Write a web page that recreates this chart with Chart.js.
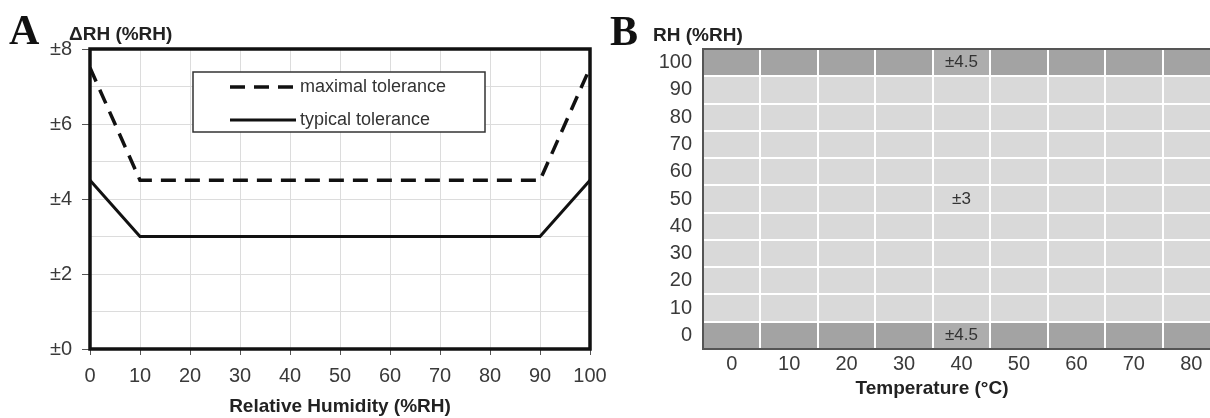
<!DOCTYPE html>
<html><head><meta charset="utf-8">
<script src="https://cdn.jsdelivr.net/npm/chart.js@4.4.1/dist/chart.umd.min.js"></script>
<style>
html,body{margin:0;padding:0;background:#fff;overflow:hidden;width:1210px;height:418px;}
#wa{position:absolute;left:0;top:0;width:620px;height:418px;}
#wb{position:absolute;left:600px;top:0;width:620px;height:418px;}
canvas{display:block;}
</style></head><body>
<div id="wa"><canvas id="ca" width="620" height="418"></canvas></div>
<div id="wb"><canvas id="cb" width="620" height="418"></canvas></div>
<script>
// ---- Panel A data ----
const rhPoints = [0, 10, 90, 100];
const maximalTolerance = [7.5, 4.5, 4.5, 7.5];
const typicalTolerance = [4.5, 3, 3, 4.5];
const seriesNames = ['maximal tolerance', 'typical tolerance'];
// ---- Panel B data ----
const temperatureLabels = ['0', '10', '20', '30', '40', '50', '60', '70', '80'];
const rhRows = [0, 10, 20, 30, 40, 50, 60, 70, 80, 90, 100];
const rhRowTolerance = [4.5, 3, 3, 3, 3, 3, 3, 3, 3, 3, 4.5];
const labelTemperature = '40';
const labelledRows = [100, 50, 0];

const NARROW = '"Liberation Sans Narrow", "Arial Narrow", "Liberation Sans", Arial, sans-serif';
const SERIF = '"Liberation Serif", "Times New Roman", serif';
Chart.defaults.font.family = NARROW;
Chart.defaults.color = '#3a3a3a';

// ---------------- Chart A ----------------
const frameA = {
  id: 'frameA',
  afterDatasetsDraw(chart) {
    const {ctx, chartArea: a} = chart;
    ctx.save();
    ctx.strokeStyle = '#111';
    ctx.lineWidth = 3.5;
    ctx.setLineDash([]);
    ctx.strokeRect(a.left, a.top, a.right - a.left, a.bottom - a.top);
    ctx.restore();
  },
  afterDraw(chart) {
    const {ctx} = chart;
    ctx.save();
    // legend box
    const bx = 193, by = 72, bw = 292, bh = 60;
    ctx.fillStyle = '#fff';
    ctx.fillRect(bx, by, bw, bh);
    ctx.strokeStyle = '#333';
    ctx.lineWidth = 1.5;
    ctx.strokeRect(bx, by, bw, bh);
    chart.data.datasets.forEach((ds, i) => {
      const y = 87 + i * 33;
      ctx.strokeStyle = ds.borderColor;
      ctx.lineWidth = ds.borderWidth;
      ctx.setLineDash(ds.borderDash || []);
      ctx.beginPath();
      ctx.moveTo(230, y);
      ctx.lineTo(296, y);
      ctx.stroke();
      ctx.setLineDash([]);
      ctx.fillStyle = '#333';
      ctx.font = '18px ' + NARROW;
      ctx.textBaseline = 'middle';
      ctx.textAlign = 'left';
      ctx.fillText(ds.label, 300, y);
    });
    // panel letter and y title
    ctx.fillStyle = '#111';
    ctx.font = 'bold 42px ' + SERIF;
    ctx.textBaseline = 'alphabetic';
    ctx.fillText('A', 9, 44);
    ctx.fillStyle = '#222';
    ctx.font = 'bold 19px ' + NARROW;
    ctx.fillText('ΔRH (%RH)', 69, 40);
    ctx.restore();
  }
};

new Chart(document.getElementById('ca'), {
  type: 'line',
  data: {
    datasets: [
      {
        label: seriesNames[0],
        data: rhPoints.map((x, i) => ({x: x, y: maximalTolerance[i]})),
        borderColor: '#111', borderWidth: 3.5, borderDash: [15, 9],
        pointRadius: 0, tension: 0, fill: false
      },
      {
        label: seriesNames[1],
        data: rhPoints.map((x, i) => ({x: x, y: typicalTolerance[i]})),
        borderColor: '#111', borderWidth: 3, borderDash: [],
        pointRadius: 0, tension: 0, fill: false
      }
    ]
  },
  options: {
    responsive: false, animation: false, devicePixelRatio: 1,
    layout: {padding: {top: 49, right: 30, left: 0, bottom: 0}},
    plugins: {legend: {display: false}, tooltip: {enabled: false}},
    scales: {
      x: {
        type: 'linear', min: 0, max: 100,
        ticks: {stepSize: 10, padding: 9, font: {size: 20}, color: '#3a3a3a', maxRotation: 0},
        grid: {color: '#dcdcdc', lineWidth: 1, tickLength: 6, tickColor: '#555'},
        border: {display: false},
        title: {display: true, text: 'Relative Humidity (%RH)', font: {size: 19, weight: 'bold'}, color: '#222', padding: {top: 0, bottom: 0}},
        afterFit(s) { s.height = 69; s.paddingLeft = 0; s.paddingRight = 0; }
      },
      y: {
        type: 'linear', min: 0, max: 8,
        ticks: {stepSize: 1, autoSkip: false, padding: 10, font: {size: 20}, color: '#3a3a3a',
          callback: v => (v % 2 === 0 ? '±' + v : '')},
        grid: {color: '#dcdcdc', lineWidth: 1, tickLength: 8,
          tickColor: c => (c.tick && c.tick.value % 2 === 0 ? '#555' : 'rgba(0,0,0,0)')},
        border: {display: false},
        afterFit(s) { s.width = 90; s.paddingTop = 0; s.paddingBottom = 0; }
      }
    }
  },
  plugins: [frameA]
});

// ---------------- Chart B ----------------
const DARK = '#a3a3a3', DARK_LABEL = '#adadad', LIGHT = '#d9d9d9';
const decorB = {
  id: 'decorB',
  afterDraw(chart) {
    const {ctx, chartArea: a, scales} = chart;
    ctx.save();
    // frame (top, left, bottom)
    ctx.strokeStyle = '#555';
    ctx.lineWidth = 2;
    ctx.beginPath();
    ctx.moveTo(a.right, a.top); ctx.lineTo(a.left, a.top);
    ctx.lineTo(a.left, a.bottom); ctx.lineTo(a.right, a.bottom);
    ctx.stroke();
    // cell labels
    const xi = temperatureLabels.indexOf(labelTemperature);
    const cx = scales.x.getPixelForValue(xi);
    ctx.fillStyle = '#333';
    ctx.font = '17px ' + NARROW;
    ctx.textAlign = 'center';
    ctx.textBaseline = 'middle';
    labelledRows.forEach(rh => {
      const tol = rhRowTolerance[rhRows.indexOf(rh)];
      ctx.fillText('±' + tol, cx, scales.y.getPixelForValue(rh));
    });
    // titles
    ctx.textAlign = 'left';
    ctx.textBaseline = 'alphabetic';
    ctx.fillStyle = '#111';
    ctx.font = 'bold 42px ' + SERIF;
    ctx.fillText('B', 10, 45);
    ctx.fillStyle = '#222';
    ctx.font = 'bold 19px ' + NARROW;
    ctx.fillText('RH (%RH)', 53, 41);
    ctx.textAlign = 'center';
    ctx.textBaseline = 'middle';
    ctx.fillText('Temperature (°C)', 332, 389);
    ctx.restore();
  }
};

new Chart(document.getElementById('cb'), {
  type: 'bar',
  data: {
    labels: temperatureLabels,
    datasets: rhRows.map((rh, i) => ({
      label: rh + ' %RH',
      data: temperatureLabels.map(() => [rh - 5, rh + 5]),
      backgroundColor: temperatureLabels.map(t =>
        rhRowTolerance[i] > 3 ? (t === labelTemperature && labelledRows.includes(rh) ? DARK_LABEL : DARK) : LIGHT),
      borderWidth: 0, borderSkipped: false,
      grouped: false, barPercentage: 1, categoryPercentage: 1
    }))
  },
  options: {
    responsive: false, animation: false, devicePixelRatio: 1,
    layout: {padding: {top: 49, right: 0, left: 0, bottom: 0}},
    plugins: {legend: {display: false}, tooltip: {enabled: false}},
    scales: {
      x: {
        type: 'category',
        ticks: {padding: 3, font: {size: 20}, color: '#3a3a3a', maxRotation: 0},
        grid: {offset: true, color: '#ffffff', lineWidth: 2, drawTicks: false, z: 1},
        border: {display: false},
        afterFit(s) { s.height = 69; s.paddingLeft = 0; s.paddingRight = 0; }
      },
      y: {
        type: 'linear', min: -5, max: 105, position: 'left',
        afterBuildTicks(s) { s.ticks = rhRows.map(v => ({value: v})); },
        ticks: {padding: 11, font: {size: 20}, color: '#3a3a3a', autoSkip: false},
        grid: {display: false, drawTicks: false},
        border: {display: false},
        afterFit(s) { s.width = 103; s.paddingTop = 0; s.paddingBottom = 0; }
      },
      yg: {
        type: 'linear', min: -5, max: 105, position: 'left',
        afterBuildTicks(s) { s.ticks = rhRows.slice(1).map(v => ({value: v - 5})); },
        ticks: {display: false},
        grid: {color: '#ffffff', lineWidth: 2, drawTicks: false, z: 1},
        border: {display: false},
        afterFit(s) { s.width = 0; }
      }
    }
  },
  plugins: [decorB]
});
</script>
</body></html>
